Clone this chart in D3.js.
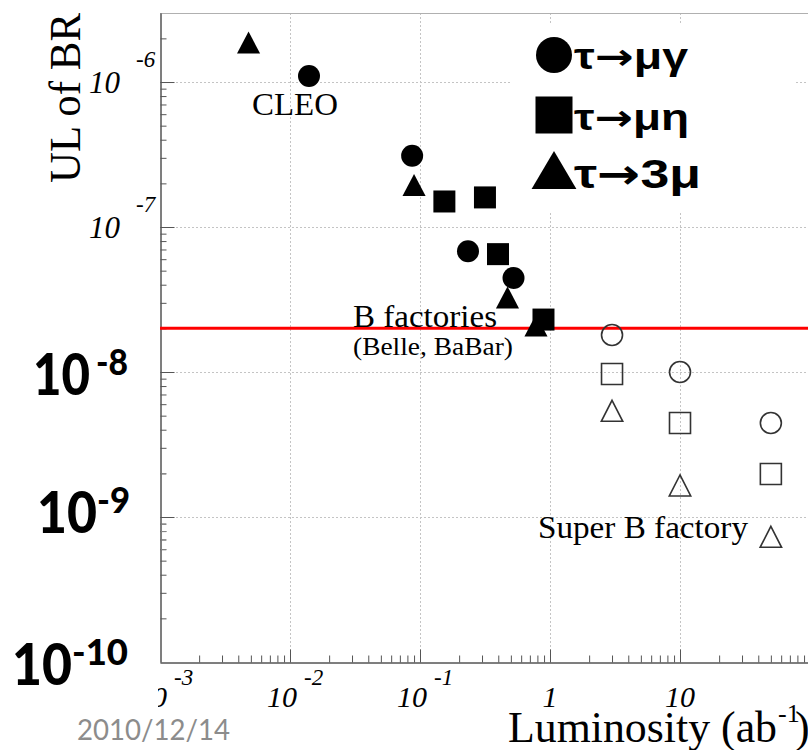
<!DOCTYPE html>
<html><head><meta charset="utf-8">
<script src="https://cdn.jsdelivr.net/npm/d3@7/dist/d3.min.js"></script>
<style>html,body{margin:0;padding:0;background:#fff;overflow:hidden}svg{display:block}</style>
</head><body>
<svg id="chart" width="808" height="750"></svg>
<script>
// ---------- data ----------
const seriesNames   = ["τ→μγ", "τ→μη", "τ→3μ"];
const seriesSymbols = ["circle", "square", "triangle"];

// measured upper limits (filled markers): luminosity (ab^-1), UL of BR
const muGammaLumi  = [0.014, 0.087, 0.234, 0.524];
const muGammaUL    = [1.10e-6, 3.1e-7, 6.8e-8, 4.45e-8];
const muEtaLumi    = [0.154, 0.316, 0.398, 0.891];
const muEtaUL      = [1.50e-7, 1.60e-7, 6.5e-8, 2.3e-8];
const threeMuLumi  = [0.0048, 0.090, 0.471, 0.780];
const threeMuUL    = [1.87e-6, 1.95e-7, 3.27e-8, 2.09e-8];

// Super B factory projections (open markers)
const projLumi       = [3, 10, 50];
const projMuGammaUL  = [1.8e-8, 1.0e-8, 4.45e-9];
const projMuEtaUL    = [9.7e-9, 4.45e-9, 1.98e-9];
const projThreeMuUL  = [5.4e-9, 1.65e-9, 7.3e-10];

const bFactoryLevel = 2.0e-8;

const xTickValues = [1e-3, 1e-2, 1e-1, 1, 10];
const xTickBase   = ["10", "10", "10", "1", "10"];
const xTickSup    = ["-3", "-2", "-1", "", ""];
const yTickValues = [1e-6, 1e-7];
const yTickSup    = ["-6", "-7"];
const bigYValues  = [1e-8, 1e-9, 1e-10];
const bigYSup     = ["-8", "-9", "-10"];

// ---------- scales ----------
const svg = d3.select("#chart");
const x = d3.scaleLog().domain([1e-3, 100]).range([160, 810]);
const y = d3.scaleLog().domain([1e-10, Math.pow(10, -5.524)]).range([662, 13]);
const X0 = 160, X1 = 808, Y0 = 662, Y1 = 13;

// ---------- grid ----------
const grid = svg.append("g").attr("stroke", "#c4c4c4").attr("stroke-width", 1).attr("stroke-dasharray", "2,2");
[1e-2, 1e-1, 1, 10].forEach(v => grid.append("line")
  .attr("x1", Math.round(x(v)) + 0.5).attr("x2", Math.round(x(v)) + 0.5).attr("y1", Y1).attr("y2", Y0));
[1e-6, 1e-7, 1e-8, 1e-9].forEach(v => grid.append("line")
  .attr("y1", Math.round(y(v)) + 0.5).attr("y2", Math.round(y(v)) + 0.5).attr("x1", X0).attr("x2", X1));

// top frame
svg.append("line").attr("x1", X0).attr("x2", X1).attr("y1", Y1 + 0.5).attr("y2", Y1 + 0.5)
  .attr("stroke", "#b0b0b0").attr("stroke-width", 1);

// ---------- axes ----------
function minorTicks(lo, hi, maxV) {
  const out = [];
  for (let e = lo; e <= hi; e++) for (let k = 2; k <= 9; k++) {
    const v = k * Math.pow(10, e); if (v <= maxV) out.push(v);
  }
  return out;
}
const xMinor = minorTicks(-3, 1, 100);
const yMinor = minorTicks(-10, -6, y.domain()[1]);

function styleAxis(g) {
  g.selectAll("path,line").attr("stroke", "#555").attr("stroke-width", 1);
  g.selectAll("text").remove();
}
svg.append("g").attr("transform", `translate(0,${Y0 + 0.5})`)
  .call(d3.axisTop(x).tickValues(xMinor).tickSize(7).tickSizeOuter(0).tickFormat(""))
  .call(styleAxis);
svg.append("g").attr("transform", `translate(0,${Y0 + 0.5})`)
  .call(d3.axisTop(x).tickValues(xTickValues.slice(1)).tickSize(13).tickSizeOuter(0).tickFormat(""))
  .call(styleAxis);
svg.append("g").attr("transform", `translate(${X0 + 0.5},0)`)
  .call(d3.axisRight(y).tickValues(yMinor).tickSize(6).tickSizeOuter(0).tickFormat(""))
  .call(styleAxis);
svg.append("g").attr("transform", `translate(${X0 + 0.5},0)`)
  .call(d3.axisRight(y).tickValues([1e-6, 1e-7, 1e-8, 1e-9]).tickSize(14).tickSizeOuter(0).tickFormat(""))
  .call(styleAxis);

// ---------- axis tick labels (italic serif) ----------
const serif = "'Liberation Serif','Times New Roman',serif";
xTickValues.forEach((v, i) => {
  const px = x(v);
  if (xTickSup[i]) {
    svg.append("text").attr("x", px + 7).attr("y", 707).attr("text-anchor", "end")
      .attr("font-family", serif).attr("font-style", "italic").attr("font-size", 30).text(xTickBase[i]);
    svg.append("text").attr("x", px + 14).attr("y", 685)
      .attr("font-family", serif).attr("font-style", "italic").attr("font-size", 23).text(xTickSup[i]);
  } else {
    svg.append("text").attr("x", px).attr("y", 707).attr("text-anchor", "middle")
      .attr("font-family", serif).attr("font-style", "italic").attr("font-size", 30).text(xTickBase[i]);
  }
});
yTickValues.forEach((v, i) => {
  const py = y(v);
  svg.append("text").attr("x", 120).attr("y", py + 11).attr("text-anchor", "end")
    .attr("font-family", serif).attr("font-style", "italic").attr("font-size", 31).text("10");
  svg.append("text").attr("x", 136).attr("y", py - 15)
    .attr("font-family", serif).attr("font-style", "italic").attr("font-size", 23).text(yTickSup[i]);
});

// axis titles
svg.append("text").attr("transform", "translate(80,183) rotate(-90)")
  .attr("font-family", serif).attr("font-size", 44)
  .attr("textLength", 170).attr("lengthAdjust", "spacingAndGlyphs").text("UL of BR");
svg.append("text").attr("x", 508).attr("y", 742).attr("font-family", serif).attr("font-size", 44)
  .attr("textLength", 269).attr("lengthAdjust", "spacingAndGlyphs").text("Luminosity (ab");
svg.append("text").attr("x", 778).attr("y", 722).attr("font-family", serif).attr("font-size", 26).text("-1");
svg.append("text").attr("x", 795).attr("y", 742).attr("font-family", serif).attr("font-size", 44).text(")");

// ---------- B factory line ----------
svg.append("line").attr("x1", X0).attr("x2", X1).attr("y1", y(bFactoryLevel)).attr("y2", y(bFactoryLevel))
  .attr("stroke", "#ff0000").attr("stroke-width", 3);

// ---------- markers ----------
function triType(aspect) {
  return { draw(ctx, size) {
    const h = Math.sqrt(size), w = h * aspect;
    ctx.moveTo(0, -h / 2); ctx.lineTo(w / 2, h / 2); ctx.lineTo(-w / 2, h / 2); ctx.closePath();
  }};
}
function symbolFor(kind, s, aspect) {
  if (kind === "circle") return d3.symbol().type(d3.symbolCircle).size(Math.PI * (s / 2) * (s / 2));
  if (kind === "square") return d3.symbol().type(d3.symbolSquare).size(s * s);
  return d3.symbol().type(triType(aspect || 1.05)).size(s * s);
}

const measured = [
  { kind: "circle",   lumi: muGammaLumi, ul: muGammaUL,  s: 22 },
  { kind: "square",   lumi: muEtaLumi,   ul: muEtaUL,    s: 22 },
  { kind: "triangle", lumi: threeMuLumi, ul: threeMuUL,  s: 22 }
];
const projected = [
  { kind: "circle",   ul: projMuGammaUL, s: 21 },
  { kind: "square",   ul: projMuEtaUL,   s: 21 },
  { kind: "triangle", ul: projThreeMuUL, s: 21 }
];

const gm = svg.append("g");
projected.forEach(ser => {
  gm.selectAll(null).data(projLumi.map((l, i) => [l, ser.ul[i]])).enter().append("path")
    .attr("transform", d => `translate(${x(d[0])},${y(d[1])})`)
    .attr("d", symbolFor(ser.kind, ser.s, 1.02)())
    .attr("fill", "none").attr("stroke", "#333").attr("stroke-width", 1.6);
});
measured.forEach(ser => {
  gm.selectAll(null).data(ser.lumi.map((l, i) => [l, ser.ul[i]])).enter().append("path")
    .attr("transform", d => `translate(${x(d[0])},${y(d[1])})`)
    .attr("d", symbolFor(ser.kind, ser.s, 1.05)())
    .attr("fill", "#000");
});

// ---------- annotations ----------
svg.append("text").attr("x", 252).attr("y", 115).attr("font-family", serif).attr("font-size", 32)
  .attr("textLength", 86).attr("lengthAdjust", "spacingAndGlyphs").text("CLEO");
svg.append("text").attr("x", 353).attr("y", 327).attr("font-family", serif).attr("font-size", 31)
  .attr("textLength", 144).attr("lengthAdjust", "spacingAndGlyphs").text("B factories");
svg.append("text").attr("x", 353).attr("y", 355).attr("font-family", serif).attr("font-size", 25)
  .attr("textLength", 160).attr("lengthAdjust", "spacingAndGlyphs").text("(Belle, BaBar)");
svg.append("text").attr("x", 538).attr("y", 538).attr("font-family", serif).attr("font-size", 31)
  .attr("textLength", 210).attr("lengthAdjust", "spacingAndGlyphs").text("Super B factory");

// ---------- legend ----------
svg.append("rect").attr("x", 510).attr("y", 24).attr("width", 285).attr("height", 187).attr("fill", "#fff");
const legY = [55, 115, 170];
const legBase = [69, 130, 188];
const legFont = [36, 36, 41];
const legLen = [114, 115, 127];
const legSize = [36, 37, 38];
const sansBold = "'Liberation Sans',Arial,sans-serif";
seriesNames.forEach((name, i) => {
  svg.append("path").attr("transform", `translate(554,${legY[i]})`)
    .attr("d", symbolFor(seriesSymbols[i], legSize[i], 1.18)()).attr("fill", "#000");
  const parts = name.split("→");
  const t = svg.append("text").attr("x", 574).attr("y", legBase[i])
    .attr("font-family", sansBold).attr("font-weight", "bold")
    .attr("font-size", legFont[i]).attr("textLength", legLen[i]).attr("lengthAdjust", "spacingAndGlyphs");
  t.append("tspan").text(parts[0]);
  t.append("tspan").attr("font-family", "'DejaVu Sans',sans-serif").attr("font-weight", "bold").text("→");
  t.append("tspan").text(parts[1]);
});

// ---------- big slide labels on white ----------
svg.append("rect").attr("x", 0).attr("y", 462).attr("width", 160).attr("height", 98).attr("fill", "#fff");
svg.append("rect").attr("x", 0).attr("y", 630).attr("width", 158).attr("height", 84).attr("fill", "#fff");
// keep the short tick marks visible where the box only hides the axis spine
svg.append("g").attr("transform", `translate(${X0 + 1},0)`)
  .call(d3.axisRight(y).tickValues(yMinor.filter(v => y(v) > 462 && y(v) < 560)).tickSize(5).tickSizeOuter(0).tickFormat(""))
  .call(g => { g.select(".domain").remove(); g.selectAll("line").attr("stroke", "#888"); g.selectAll("text").remove(); });

const bigFont = "Lato,'Open Sans',sans-serif";
const bigBaseX = [33, 37, 12], bigBaseW = [57, 60, 60], bigBaseY = [395, 533, 685];
const bigSupX = [96, 97, 72], bigSupW = [32, 33, 56], bigSupY = [375, 513, 665];
bigYValues.forEach((v, i) => {
  svg.append("text").attr("x", bigBaseX[i]).attr("y", bigBaseY[i]).attr("font-family", bigFont)
    .attr("font-weight", 900).attr("font-size", 58)
    .attr("textLength", bigBaseW[i]).attr("lengthAdjust", "spacingAndGlyphs").text("10");
  svg.append("text").attr("x", bigSupX[i]).attr("y", bigSupY[i]).attr("font-family", bigFont)
    .attr("font-weight", 900).attr("font-size", 36)
    .attr("textLength", bigSupW[i]).attr("lengthAdjust", "spacingAndGlyphs").text(bigYSup[i]);
});

// footer date
svg.append("text").attr("x", 77).attr("y", 740).attr("font-family", bigFont).attr("font-size", 29)
  .attr("fill", "#8c8c8c").attr("textLength", 153).attr("lengthAdjust", "spacingAndGlyphs").text("2010/12/14");
</script>
</body></html>
